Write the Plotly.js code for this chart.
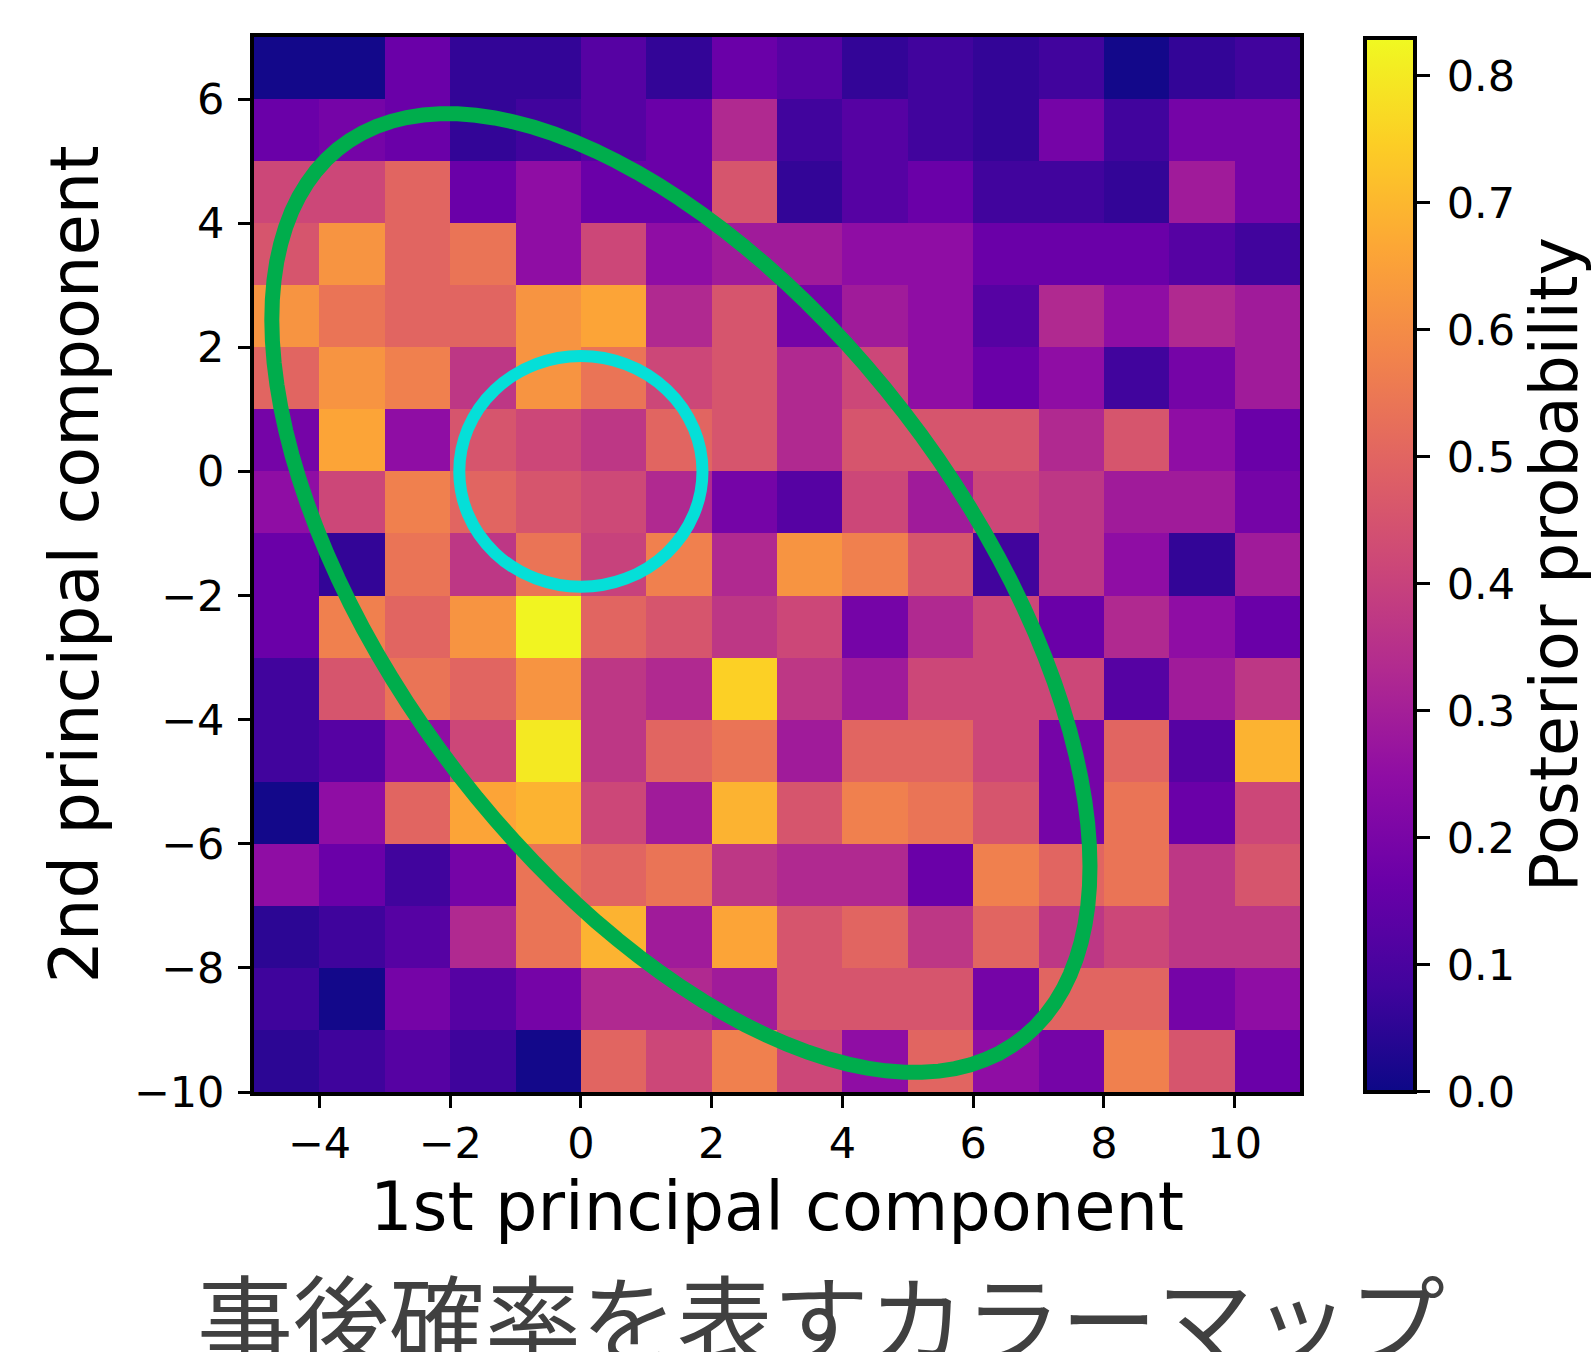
<!DOCTYPE html>
<html>
<head>
<meta charset="utf-8">
<script src="https://cdn.plot.ly/plotly-3.0.1.min.js"></script>
<style>html,body{margin:0;padding:0;background:#fff;}#chart{width:1591px;height:1352px;}</style>
</head>
<body>
<div id="chart"></div>
<script>
// bin centres
const pc1Centers = [-4.5,-3.5,-2.5,-1.5,-0.5,0.5,1.5,2.5,3.5,4.5,5.5,6.5,7.5,8.5,9.5,10.5];
const pc2Centers = [6.5,5.5,4.5,3.5,2.5,1.5,0.5,-0.5,-1.5,-2.5,-3.5,-4.5,-5.5,-6.5,-7.5,-8.5,-9.5];
// posterior probability, rows from top (pc2 = 6.5) to bottom (pc2 = -9.5)
const posterior = [
  [0.01,0.01,0.166,0.06,0.06,0.125,0.06,0.166,0.125,0.06,0.083,0.06,0.083,0.01,0.06,0.083],
  [0.166,0.19,0.166,0.06,0.083,0.125,0.166,0.33,0.083,0.125,0.083,0.06,0.19,0.083,0.19,0.19],
  [0.415,0.415,0.50,0.166,0.25,0.166,0.166,0.455,0.06,0.125,0.166,0.083,0.083,0.06,0.29,0.19],
  [0.455,0.62,0.50,0.54,0.25,0.415,0.25,0.29,0.29,0.25,0.25,0.166,0.166,0.166,0.125,0.083],
  [0.62,0.54,0.50,0.50,0.62,0.66,0.33,0.455,0.19,0.29,0.25,0.125,0.33,0.25,0.33,0.29],
  [0.50,0.62,0.57,0.37,0.62,0.54,0.415,0.455,0.33,0.415,0.25,0.166,0.25,0.083,0.19,0.29],
  [0.19,0.66,0.25,0.455,0.415,0.37,0.50,0.455,0.33,0.455,0.455,0.455,0.33,0.455,0.25,0.166],
  [0.25,0.415,0.57,0.50,0.455,0.42,0.33,0.19,0.125,0.415,0.29,0.415,0.37,0.29,0.29,0.19],
  [0.166,0.06,0.54,0.37,0.54,0.40,0.57,0.33,0.62,0.57,0.455,0.083,0.37,0.25,0.06,0.29],
  [0.166,0.57,0.50,0.62,0.82,0.50,0.455,0.37,0.415,0.19,0.33,0.415,0.166,0.33,0.25,0.166],
  [0.083,0.455,0.54,0.50,0.62,0.37,0.33,0.75,0.37,0.29,0.415,0.415,0.415,0.125,0.29,0.37],
  [0.083,0.125,0.25,0.415,0.80,0.37,0.50,0.54,0.29,0.50,0.50,0.415,0.19,0.50,0.125,0.69],
  [0.01,0.25,0.50,0.66,0.69,0.415,0.29,0.69,0.455,0.57,0.54,0.455,0.19,0.54,0.166,0.415],
  [0.25,0.166,0.083,0.19,0.54,0.50,0.54,0.37,0.33,0.33,0.166,0.57,0.50,0.54,0.37,0.455],
  [0.05,0.08,0.125,0.33,0.54,0.69,0.29,0.66,0.455,0.50,0.37,0.50,0.37,0.415,0.37,0.37],
  [0.08,0.01,0.19,0.125,0.19,0.33,0.33,0.29,0.455,0.455,0.455,0.19,0.50,0.50,0.19,0.25],
  [0.05,0.08,0.125,0.08,0.01,0.50,0.415,0.57,0.415,0.25,0.50,0.25,0.19,0.57,0.455,0.166]
];
const xTickVals = [-4,-2,0,2,4,6,8,10];
const xTickText = ['\u22124','\u22122','0','2','4','6','8','10'];
const yTickVals = [-10,-8,-6,-4,-2,0,2,4,6];
const yTickText = ['\u221210','\u22128','\u22126','\u22124','\u22122','0','2','4','6'];
const cbTickVals = [0,0.1,0.2,0.3,0.4,0.5,0.6,0.7,0.8];
const cbTickText = ['0.0','0.1','0.2','0.3','0.4','0.5','0.6','0.7','0.8'];

// overlay parameters (data units)
const ellipse = {cx:1.53, cy:-1.96, a:8.88, b:4.47, angleDeg:-55.2};
const circle = {cx:0, cy:0, r:1.86};

const plasma = [
  [0.0,'#0d0887'],[0.1,'#41049d'],[0.2,'#6a00a8'],[0.3,'#8f0da4'],[0.4,'#b12a90'],
  [0.5,'#cc4778'],[0.6,'#e16462'],[0.7,'#f2844b'],[0.8,'#fca636'],[0.9,'#fcce25'],[1.0,'#f0f921']
];

function ellipsePath(e){
  const th = e.angleDeg*Math.PI/180, n = 120;
  let p = '';
  for(let i=0;i<=n;i++){
    const t = 2*Math.PI*i/n;
    const x = e.cx + e.a*Math.cos(t)*Math.cos(th) - e.b*Math.sin(t)*Math.sin(th);
    const y = e.cy + e.a*Math.cos(t)*Math.sin(th) + e.b*Math.sin(t)*Math.cos(th);
    p += (i===0?'M':'L') + x.toFixed(4) + ',' + y.toFixed(4);
  }
  return p + 'Z';
}

const font = 'DejaVu Sans, sans-serif';
const trace = {
  type:'heatmap', x:pc1Centers, y:pc2Centers, z:posterior,
  colorscale:plasma, zmin:0, zmax:0.83, zsmooth:false, hoverinfo:'skip',
  colorbar:{
    xref:'container', x:1365/1591, xanchor:'left', xpad:0, ypad:0,
    yref:'paper', y:0.5, yanchor:'middle',
    thickness:50, thicknessmode:'pixels', len:1054, lenmode:'pixels',
    outlinewidth:4, outlinecolor:'#000',
    tickvals:cbTickVals, ticktext:cbTickText.map(t => '\u2009' + t), ticks:'outside', ticklen:13, tickwidth:3, tickcolor:'#000',
    tickfont:{family:font, size:43, color:'#000'},
    title:{text:'Posterior probability', side:'right', font:{family:font, size:65, color:'#000'}}
  }
};

const layout = {
  width:1591, height:1352,
  margin:{l:254, r:291, t:37, b:260, pad:0},
  paper_bgcolor:'#fff', plot_bgcolor:'#fff',
  showlegend:false,
  xaxis:{
    range:[-5,11], tickvals:xTickVals, ticktext:xTickText, ticks:'outside', ticklen:12, tickwidth:3, tickcolor:'#000',
    showline:true, mirror:true, linewidth:4, linecolor:'#000', showgrid:false, zeroline:false,
    tickfont:{family:font, size:43, color:'#000'}, ticklabelstandoff:-2,
    title:{text:'1st principal component', font:{family:font, size:67, color:'#000'}, standoff:14}
  },
  yaxis:{
    range:[-10,7], tickvals:yTickVals, ticktext:yTickText, ticks:'outside', ticklen:12, tickwidth:3, tickcolor:'#000',
    showline:true, mirror:true, linewidth:4, linecolor:'#000', showgrid:false, zeroline:false,
    tickfont:{family:font, size:43, color:'#000'}, ticklabelstandoff:5,
    title:{text:'2nd principal component', font:{family:font, size:67, color:'#000'}, standoff:14}
  },
  shapes:[
    {type:'path', xref:'x', yref:'y', path:ellipsePath(ellipse), line:{color:'#00ad4c', width:15}},
    {type:'circle', xref:'x', yref:'y', x0:circle.cx-circle.r, x1:circle.cx+circle.r, y0:circle.cy-circle.r, y1:circle.cy+circle.r,
     line:{color:'#05dfd8', width:12}}
  ],
  annotations:[
    {text:'事後確率を表すカラーマップ', xref:'paper', yref:'paper', x:0.5, y:0, xanchor:'center', yanchor:'top',
     xshift:44, yshift:-151, showarrow:false,
     font:{family:'Noto Sans CJK JP, sans-serif', size:96, color:'#404040'}}
  ]
};

Plotly.newPlot('chart', [trace], layout, {displayModeBar:false, staticPlot:true});
</script>
</body>
</html>
